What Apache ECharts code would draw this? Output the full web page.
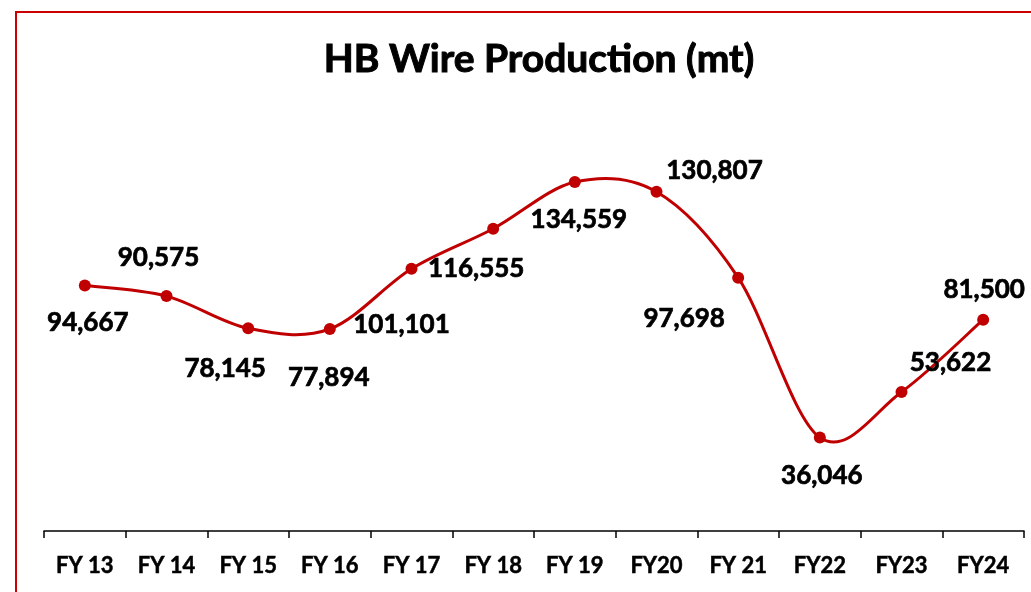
<!DOCTYPE html>
<html>
<head>
<meta charset="utf-8">
<script src="https://cdn.jsdelivr.net/npm/echarts@6/dist/echarts.min.js"></script>
<style>
  html, body { margin: 0; padding: 0; background: #fff; overflow: hidden; }
  .frame {
    position: absolute; left: 15px; top: 11px;
    width: 1200px; height: 800px;
    border: 2px solid #cc0000; box-sizing: border-box;
  }
  #chart { position: absolute; left: 0; top: 0; width: 1031px; height: 592px; }
</style>
</head>
<body>
<div class="frame"></div>
<div id="chart"></div>
<script>
const years = ['FY 13', 'FY 14', 'FY 15', 'FY 16', 'FY 17', 'FY 18', 'FY 19', 'FY20', 'FY 21', 'FY22', 'FY23', 'FY24']
const production = [94667, 90575, 78145, 77894, 101101, 116555, 134559, 130807, 97698, 36046, 53622, 81500]

// where each value label sits relative to its point (px)
const labelOffsets = [
  [3, 37], [-8, -38], [-23, 40], [-1, 49], [-10, 56], [-17, 40],
  [4, 38], [58, -21], [-54, 41], [2, 38], [49, -29], [1, -30]
]

const RED = '#c00000'
const boldText = { fontFamily: 'Lato', fontWeight: 'bold', color: '#000', textBorderColor: '#000', textBorderWidth: 0.7 }

const chart = echarts.init(document.getElementById('chart'))

// Excel-style smoothed segment (catmull-rom -> cubic bezier), one per point pair
function renderSegment(params, api) {
  const i = params.dataIndex
  const n = production.length
  if (i >= n - 1) return null
  const pt = k => api.coord([Math.max(0, Math.min(n - 1, k)), production[Math.max(0, Math.min(n - 1, k))]])
  const p0 = pt(i - 1), p1 = pt(i), p2 = pt(i + 1), p3 = pt(i + 2)
  return {
    type: 'bezierCurve',
    shape: {
      x1: p1[0], y1: p1[1],
      cpx1: p1[0] + (p2[0] - p0[0]) / 6, cpy1: p1[1] + (p2[1] - p0[1]) / 6,
      cpx2: p2[0] - (p3[0] - p1[0]) / 6, cpy2: p2[1] - (p3[1] - p1[1]) / 6,
      x2: p2[0], y2: p2[1]
    },
    style: { stroke: RED, lineWidth: 3, fill: null }
  }
}

const option = {
  animation: false,
  title: {
    text: 'HB Wire Production (mt)',
    left: 534,
    top: 35,
    textAlign: 'center',
    textStyle: { ...boldText, fontSize: 39, textBorderWidth: 1 }
  },
  grid: { left: 44, right: 7, top: 142, bottom: 61 },
  xAxis: {
    type: 'category',
    data: years,
    boundaryGap: true,
    axisLine: { lineStyle: { color: '#000', width: 1.5 } },
    axisTick: { show: true, length: 7, lineStyle: { color: '#000', width: 1.5 } },
    axisLabel: { ...boldText, interval: 0, margin: 24, fontSize: 22, textBorderWidth: 0.5 }
  },
  yAxis: {
    type: 'value',
    min: 0,
    max: 150000,
    show: false
  },
  series: [
    {
      type: 'custom',
      data: production,
      renderItem: renderSegment,
      z: 2
    },
    {
      type: 'line',
      z: 3,
      data: production.map((v, i) => ({
        value: v,
        label: { offset: labelOffsets[i] }
      })),
      symbol: 'circle',
      symbolSize: 12,
      itemStyle: { color: RED },
      lineStyle: { width: 0 },
      label: {
        ...boldText,
        show: true,
        position: 'inside',
        fontSize: 26,
        formatter: p => p.value.toLocaleString('en-US')
      }
    }
  ]
}

chart.setOption(option)
</script>
</body>
</html>
